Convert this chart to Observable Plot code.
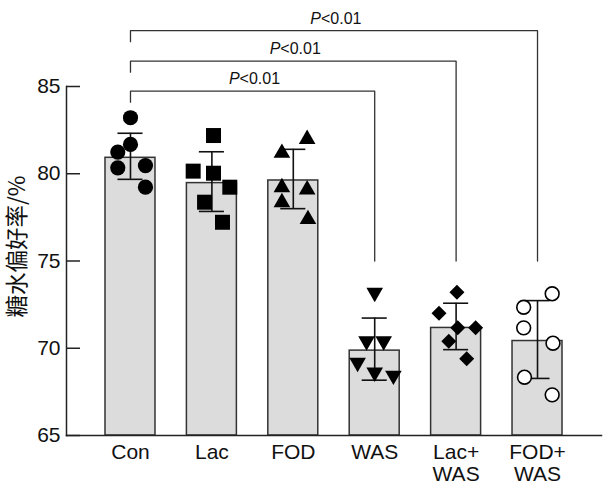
<!DOCTYPE html>
<html><head><meta charset="utf-8">
<script src="https://cdn.jsdelivr.net/npm/d3@7"></script>
<script src="https://cdn.jsdelivr.net/npm/@observablehq/plot@0.6"></script>
<style>body{margin:0;background:#fff}</style>
</head><body><div id="chart"></div>
<script>
const groups = ["Con", "Lac", "FOD", "WAS", "Lac+\nWAS", "FOD+\nWAS"];
const means = [81.0, 79.55, 79.7, 69.95, 71.25, 70.5];
const sds = [1.32, 1.71, 1.70, 1.78, 1.33, 2.23];
const pointValues = [
  [83.21, 81.68, 81.24, 80.34, 80.47, 79.23],
  [82.19, 80.15, 80.03, 79.23, 78.37, 77.22],
  [81.98, 81.19, 79.22, 79.09, 78.36, 77.39],
  [73.19, 70.41, 70.41, 69.18, 68.62, 68.44],
  [73.21, 72.01, 71.17, 71.17, 70.40, 69.40],
  [73.12, 72.35, 71.17, 70.29, 68.34, 67.33]
];
const pointJitter = [
  [0, 0, -0.156, -0.156, 0.184, 0.184],
  [0.02, -0.23, 0.02, 0.22, -0.09, 0.13],
  [0.17, -0.14, -0.14, 0.17, -0.14, 0.18],
  [0, -0.10, 0.11, -0.21, 0, 0.23],
  [0.01, -0.21, 0.02, 0.24, -0.09, 0.13],
  [0.18, -0.17, -0.17, 0.19, -0.16, 0.18]
];
const comparisonFrom = [0, 0, 0];
const comparisonTo = [3, 4, 5];
const comparisonLevel = [84.73, 86.45, 88.2];
const comparisonLegTop = 0.63;
const comparisonLegBottom = 75;
const pText = ["P", "<0.01"];
const yTicks = [65, 70, 75, 80, 85];
const yLabel = "糖水偏好率/%";

const symbols = [
  {symbol: "circle", r: 7.6, fill: "black", stroke: "none", rotate: 0},
  {symbol: "square", r: 8.46, fill: "black", stroke: "none", rotate: 0},
  {symbol: "triangle", r: 6.17, fill: "black", stroke: "none", rotate: 0},
  {symbol: "triangle", r: 6.17, fill: "black", stroke: "none", rotate: 180},
  {symbol: "square", r: 5.98, fill: "black", stroke: "none", rotate: 45},
  {symbol: "circle", r: 6.9, fill: "white", stroke: "black", rotate: 0, strokeWidth: 1.6}
];

const bars = groups.map((g, i) => ({i, mean: means[i], sd: sds[i]}));
const caps = bars.flatMap(d => [{i: d.i, y: d.mean + d.sd}, {i: d.i, y: d.mean - d.sd}]);
const points = pointValues.flatMap((vals, i) => vals.map((v, j) => ({g: i, x: i + pointJitter[i][j], y: v})));
const comps = comparisonTo.map((to, k) => ({from: comparisonFrom[k], to, level: comparisonLevel[k], k}));
const bracketPts = comps.flatMap(c => [
  {k: c.k, x: c.from, y: c.level - comparisonLegTop},
  {k: c.k, x: c.from, y: c.level},
  {k: c.k, x: c.to, y: c.level},
  {k: c.k, x: c.to, y: comparisonLegBottom}
]);

const halfBar = 0.307, halfCap = 0.154;

const chart = Plot.plot({
  width: 607,
  height: 486,
  marginLeft: 66,
  marginRight: 6,
  marginTop: 86,
  marginBottom: 51,
  style: {fontFamily: "'Liberation Sans', Arial, sans-serif", fontSize: "21px", background: "white", color: "#111"},
  x: {type: "linear", domain: [-0.786, 5.786]},
  y: {domain: [65, 85]},
  marks: [
    Plot.rectY(bars, {x1: d => d.i - halfBar, x2: d => d.i + halfBar, y1: 65, y2: "mean", fill: "#dcdcdc", stroke: "#333", strokeWidth: 1.5, insetTop: 1.5}),
    Plot.ruleX(bars, {x: "i", y1: d => d.mean - d.sd, y2: d => d.mean + d.sd, stroke: "#111", strokeWidth: 1.6}),
    Plot.ruleY(caps, {y: "y", x1: d => d.i - halfCap, x2: d => d.i + halfCap, stroke: "#111", strokeWidth: 1.6}),
    ...symbols.map((s, i) => Plot.dot(points.filter(p => p.g === i), {x: "x", y: "y", symbol: s.symbol, r: s.r, fill: s.fill, stroke: s.stroke, strokeWidth: s.strokeWidth || 1, rotate: s.rotate})),
    Plot.line(bracketPts, {x: "x", y: "y", z: "k", stroke: "#333", strokeWidth: 1.3}),
    Plot.text(comps, {x: d => (d.from + d.to) / 2, y: "level", text: () => pText[0], textAnchor: "end", lineAnchor: "bottom", dx: -13, dy: -7, fontSize: 16, fontStyle: "italic", fill: "#111"}),
    Plot.text(comps, {x: d => (d.from + d.to) / 2, y: "level", text: () => pText[1], textAnchor: "start", lineAnchor: "bottom", dx: -13, dy: -7, fontSize: 16, fill: "#111"}),
    Plot.ruleY(yTicks, {y: d => d, insetRight: 535 - 14, stroke: "#222", strokeWidth: 1.5}),
    Plot.frame({anchor: "left", stroke: "#222", strokeWidth: 1.5}),
    Plot.frame({anchor: "bottom", stroke: "#222", strokeWidth: 1.5}),
    Plot.axisY({ticks: yTicks, tickSize: 0, tickPadding: 6, fontSize: 21, label: null}),
    Plot.axisX({ticks: d3.range(groups.length), tickFormat: i => groups[i], tickSize: 0, tickPadding: 8, fontSize: 21, lineHeight: 1.04, label: null}),
    Plot.text([yLabel], {frameAnchor: "left", textAnchor: "middle", lineAnchor: "middle", dx: -48.5, dy: -14.5, rotate: -90, fontSize: 22.5, fontFamily: "'Noto Sans CJK SC', sans-serif", fill: "#111"})
  ]
});
document.getElementById("chart").appendChild(chart);
</script>
</body></html>
